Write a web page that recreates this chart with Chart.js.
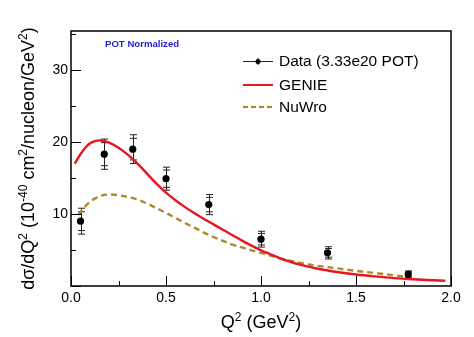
<!DOCTYPE html>
<html>
<head>
<meta charset="utf-8">
<script src="https://cdn.jsdelivr.net/npm/chart.js@4.4.1/dist/chart.umd.min.js"></script>
<style>
  html, body { margin: 0; padding: 0; background: #fff; }
  #wrap { width: 474px; height: 337px; }
</style>
</head>
<body>
<div id="wrap"><canvas id="c" width="474" height="337"></canvas></div>
<script>
// ---- data ----
const dataQ2     = [0.05, 0.175, 0.325, 0.5, 0.725, 1.0, 1.35, 1.775];
const dataXsec   = [9.0, 18.3, 19.0, 14.9, 11.3, 6.5, 4.6, 1.6];
const dataErrTot = [1.8, 2.1, 2.0, 1.6, 1.4, 1.1, 0.85, 0.5];
const dataErrStat= [1.3, 1.6, 1.5, 1.2, 1.0, 0.8, 0.6, 0.35];

const genieQ2 = [0.02,0.05,0.075,0.1,0.13,0.16,0.2,0.25,0.3,0.35,0.4,0.45,0.5,0.55,0.6,0.65,0.7,0.75,0.8,0.85,0.9,0.95,1.0,1.05,1.1,1.15,1.2,1.3,1.4,1.5,1.6,1.7,1.8,1.9,1.97];
const genieXs = [17.0,18.3,19.2,19.8,20.15,20.2,19.9,19.2,18.2,17.0,15.6,14.2,12.95,11.9,10.95,10.1,9.3,8.55,7.8,7.05,6.3,5.6,4.95,4.4,3.85,3.4,3.0,2.4,1.95,1.6,1.33,1.1,0.93,0.8,0.72];

const nuwroQ2 = [0.04,0.06,0.08,0.1,0.13,0.16,0.2,0.25,0.3,0.35,0.4,0.45,0.5,0.55,0.6,0.65,0.7,0.75,0.8,0.85,0.9,0.95,1.0,1.1,1.2,1.3,1.4,1.5,1.6,1.7,1.78];
const nuwroXs = [9.9,10.6,11.2,11.7,12.2,12.55,12.7,12.6,12.35,12.0,11.45,10.8,10.15,9.45,8.75,8.1,7.4,6.8,6.25,5.75,5.35,4.95,4.6,3.85,3.25,2.8,2.45,2.1,1.8,1.5,1.2];

const xMajorTicks = [0, 0.5, 1.0, 1.5, 2.0];
const xMinorTicks = [0.25, 0.75, 1.25, 1.75];
const yMajorTicks = [0, 10, 20, 30];
const yMinorTicks = [5, 15, 25, 35];
const labels = ['Data (3.33e20 POT)', 'GENIE', 'NuWro'];

const FONT = '"Liberation Sans", Arial, Helvetica, sans-serif';
const RED = 'rgb(232,22,30)';
const GOLD = 'rgb(176,136,42)';

function pts(xs, ys) { return xs.map((x, i) => ({x: x, y: ys[i]})); }

// draw text with superscripts: segs = [[text, isSup], ...]
function richWidth(ctx, segs, size) {
  let w = 0;
  for (const [t, sup] of segs) {
    ctx.font = (sup ? Math.round(size * 0.68) : size) + 'px ' + FONT;
    w += ctx.measureText(t).width;
  }
  return w;
}
function drawRich(ctx, segs, size, cx, cy) {
  const w = richWidth(ctx, segs, size);
  let x = cx - w / 2;
  ctx.textBaseline = 'alphabetic';
  ctx.textAlign = 'left';
  for (const [t, sup] of segs) {
    const s = sup ? Math.round(size * 0.68) : size;
    ctx.font = s + 'px ' + FONT;
    ctx.fillText(t, x, cy + size * 0.35 - (sup ? size * 0.42 : 0));
    x += ctx.measureText(t).width;
  }
}

const decorPlugin = {
  id: 'decor',
  beforeDatasetsDraw(chart) {
    const ctx = chart.ctx, xs = chart.scales.x, ys = chart.scales.y;
    ctx.save();
    ctx.strokeStyle = '#222';
    ctx.lineWidth = 1;
    for (let i = 0; i < dataQ2.length; i++) {
      const px = Math.round(xs.getPixelForValue(dataQ2[i])) + 0.5;
      const yT1 = ys.getPixelForValue(dataXsec[i] + dataErrTot[i]);
      const yT2 = ys.getPixelForValue(dataXsec[i] - dataErrTot[i]);
      const yS1 = ys.getPixelForValue(dataXsec[i] + dataErrStat[i]);
      const yS2 = ys.getPixelForValue(dataXsec[i] - dataErrStat[i]);
      ctx.beginPath();
      ctx.moveTo(px, yT1); ctx.lineTo(px, yT2);
      for (const yy of [yT1, yT2, yS1, yS2]) {
        ctx.moveTo(px - 3.5, yy); ctx.lineTo(px + 3.5, yy);
      }
      ctx.stroke();
    }
    ctx.restore();
  },
  afterDraw(chart) {
    const ctx = chart.ctx, a = chart.chartArea, xs = chart.scales.x, ys = chart.scales.y;
    ctx.save();
    // frame
    ctx.strokeStyle = '#000';
    ctx.lineWidth = 1.5;
    ctx.strokeRect(a.left, a.top, a.right - a.left, a.bottom - a.top);
    // ticks (inward)
    ctx.lineWidth = 1;
    ctx.beginPath();
    for (const v of xMajorTicks) {
      const p = Math.round(xs.getPixelForValue(v)) + 0.5;
      ctx.moveTo(p, a.bottom); ctx.lineTo(p, a.bottom - 10);
    }
    for (const v of xMinorTicks) {
      const p = Math.round(xs.getPixelForValue(v)) + 0.5;
      ctx.moveTo(p, a.bottom); ctx.lineTo(p, a.bottom - 5);
    }
    for (const v of yMajorTicks) {
      const p = Math.round(ys.getPixelForValue(v)) + 0.5;
      ctx.moveTo(a.left, p); ctx.lineTo(a.left + 10, p);
    }
    for (const v of yMinorTicks) {
      if (v > ys.max) continue;
      const p = Math.round(ys.getPixelForValue(v)) + 0.5;
      ctx.moveTo(a.left, p); ctx.lineTo(a.left + 5, p);
    }
    ctx.stroke();

    // axis titles
    ctx.fillStyle = '#000';
    drawRich(ctx, [['Q', false], ['2', true], [' (GeV', false], ['2', true], [')', false]], 18, (a.left + a.right) / 2, 322);
    ctx.save();
    ctx.translate(28, (a.top + a.bottom) / 2);
    ctx.rotate(-Math.PI / 2);
    drawRich(ctx, [['dσ/dQ', false], ['2', true], [' (10', false], ['-40', true], [' cm', false], ['2', true], ['/nucleon/GeV', false], ['2', true], [')', false]], 18, 0, 0);
    ctx.restore();

    // POT Normalized
    ctx.font = 'bold 9.6px ' + FONT;
    ctx.fillStyle = 'rgb(30,30,215)';
    ctx.textAlign = 'left';
    ctx.textBaseline = 'middle';
    ctx.fillText('POT Normalized', 105, 44);

    // legend
    const lx1 = 243, lx2 = 273, tx = 279;
    const rows = [61, 85, 107];
    ctx.font = '15.5px ' + FONT;
    ctx.fillStyle = '#000';
    ctx.textBaseline = 'middle';
    for (let i = 0; i < 3; i++) ctx.fillText(chart.data.datasets[i].label, tx, rows[i] + 1);
    // data marker
    ctx.strokeStyle = '#222'; ctx.lineWidth = 1;
    ctx.beginPath();
    ctx.moveTo(lx1, rows[0] + 0.5); ctx.lineTo(lx2, rows[0] + 0.5);
    ctx.moveTo((lx1 + lx2) / 2, rows[0] - 3); ctx.lineTo((lx1 + lx2) / 2, rows[0] + 4);
    ctx.stroke();
    ctx.fillStyle = '#000';
    ctx.beginPath(); ctx.arc((lx1 + lx2) / 2, rows[0] + 0.5, 2.5, 0, Math.PI * 2); ctx.fill();
    // GENIE
    ctx.strokeStyle = RED; ctx.lineWidth = 2;
    ctx.beginPath(); ctx.moveTo(lx1, rows[1]); ctx.lineTo(lx2, rows[1]); ctx.stroke();
    // NuWro
    ctx.strokeStyle = GOLD; ctx.setLineDash([5, 3]);
    ctx.beginPath(); ctx.moveTo(lx1, rows[2]); ctx.lineTo(lx2, rows[2]); ctx.stroke();
    ctx.setLineDash([]);
    ctx.restore();
  }
};

new Chart(document.getElementById('c'), {
  type: 'scatter',
  data: {
    datasets: [
      {
        label: labels[0],
        data: pts(dataQ2, dataXsec),
        showLine: false,
        pointRadius: 3.6,
        pointBackgroundColor: '#000',
        pointBorderColor: '#000',
        pointBorderWidth: 0,
        order: 0
      },
      {
        label: labels[1],
        data: pts(genieQ2, genieXs),
        showLine: true,
        borderColor: RED,
        borderWidth: 2.4,
        pointRadius: 0,
        tension: 0.35,
        order: 1
      },
      {
        label: labels[2],
        data: pts(nuwroQ2, nuwroXs),
        showLine: true,
        borderColor: GOLD,
        borderWidth: 2.4,
        borderDash: [6, 4],
        pointRadius: 0,
        tension: 0.35,
        order: 2
      }
    ]
  },
  options: {
    responsive: false,
    animation: false,
    devicePixelRatio: 1,
    layout: { padding: { top: 31, right: 23, left: 0, bottom: 0 } },
    plugins: { legend: { display: false }, tooltip: { enabled: false } },
    scales: {
      x: {
        type: 'linear', min: 0, max: 2,
        afterFit(s) { s.height = 51; },
        afterBuildTicks(s) { s.ticks = xMajorTicks.map(v => ({value: v})); },
        grid: { display: false, drawTicks: false },
        border: { display: false },
        ticks: {
          font: { family: FONT, size: 14 }, color: '#000', padding: 4,
          maxRotation: 0, autoSkip: false,
          callback: v => Number(v).toFixed(1)
        }
      },
      y: {
        type: 'linear', min: 0, max: 35.4,
        afterFit(s) { s.width = 71; },
        afterBuildTicks(s) { s.ticks = yMajorTicks.filter(v => v > 0).map(v => ({value: v})); },
        grid: { display: false, drawTicks: false },
        border: { display: false },
        ticks: {
          font: { family: FONT, size: 14 }, color: '#000', padding: 3,
          autoSkip: false,
          callback: v => String(v)
        }
      }
    }
  },
  plugins: [decorPlugin]
});
</script>
</body>
</html>
